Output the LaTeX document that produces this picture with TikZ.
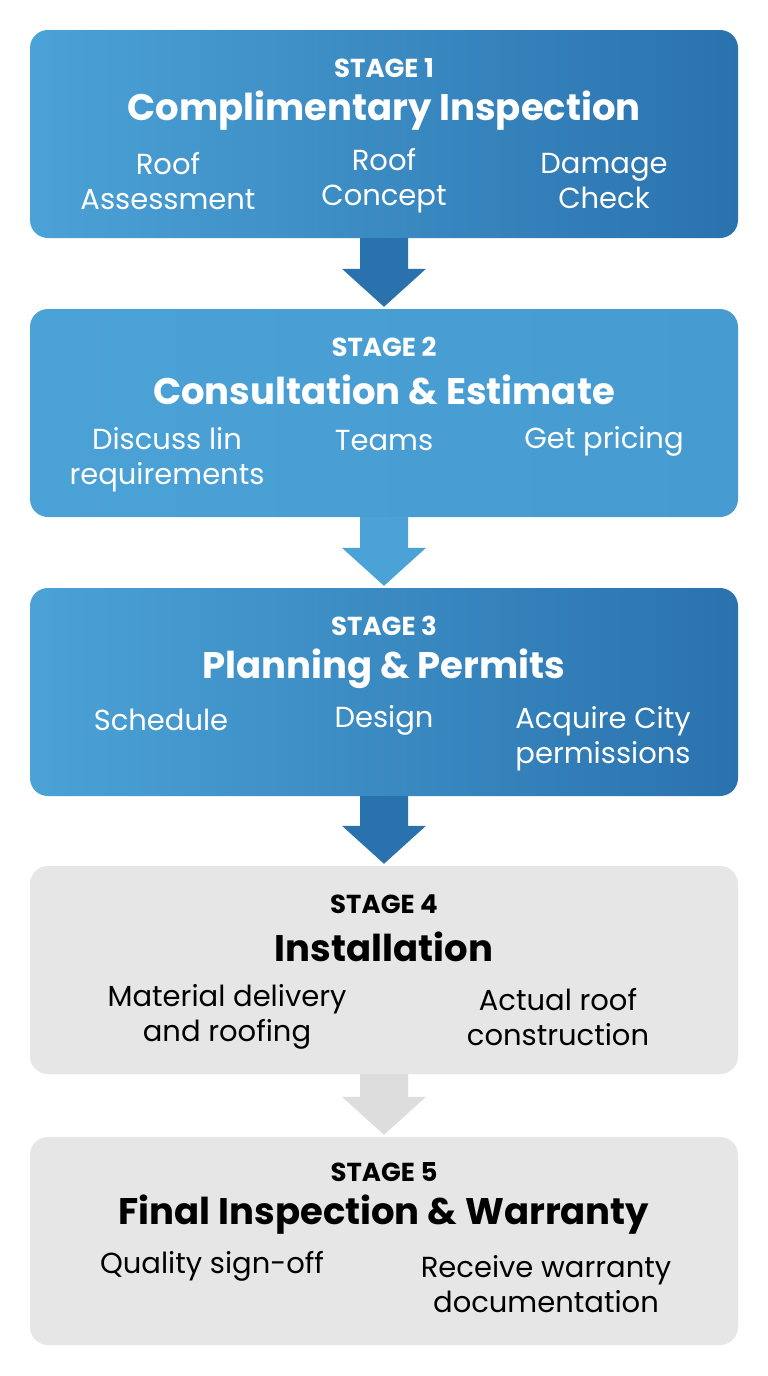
\documentclass[tikz,border=0pt]{standalone}
\usepackage{fontspec}
\setmainfont{Poppins}
\usetikzlibrary{calc}
\usetikzlibrary{positioning}

\definecolor{blueL}{HTML}{4BA2D6}
\definecolor{blueR}{HTML}{2A72AE}
\definecolor{blueM}{HTML}{3A8CC6}
\definecolor{greyBox}{HTML}{E6E6E6}
\definecolor{greyArr}{HTML}{DDDDDD}

\tikzset{
  stage/.style={rounded corners=18pt,minimum width=708pt,minimum height=208pt,inner sep=0pt},
  bluestage/.style={stage,left color=blueL,right color=blueR},
  greystage/.style={stage,fill=greyBox},
  stagetag/.style={font=\fontsize{26}{30}\selectfont\bfseries},
  stagetitle/.style={font=\fontsize{37}{42}\selectfont\bfseries},
  stagebody/.style={font=\fontsize{29}{35}\selectfont,align=center},
}

% block arrow between two stages
\newcommand{\stagearrow}[3]{%
  \fill[#3] ($(#1.south)+(-24pt,0)$) -- ($(#1.south)+(24pt,0)$)
    -- ($(#2.north)+(24pt,40pt)$) -- ($(#2.north)+(42pt,40pt)$)
    -- ($(#2.north)+(0,2pt)$)
    -- ($(#2.north)+(-42pt,40pt)$) -- ($(#2.north)+(-24pt,40pt)$) -- cycle;}

\begin{document}
\begin{tikzpicture}[x=1pt,y=-1pt]
  \useasboundingbox[fill=white] (0,0) rectangle (768,1376);

  \node[bluestage]  (s1) at (384,134) {};
  \node[bluestage,left color=blueL,right color=blueL!85!blueR] (s2) at (384,413) {};
  \node[bluestage]  (s3) at (384,692) {};
  \node[greystage]  (s4) at (384,970) {};
  \node[greystage]  (s5) at (384,1241) {};

  \stagearrow{s1}{s2}{blueR}
  \stagearrow{s2}{s3}{blueL}
  \stagearrow{s3}{s4}{blueR}
  \stagearrow{s4}{s5}{greyArr}

  % stage 1
  \begin{scope}[text=white]
    \node[stagetag]   (t1)  at ($(s1)+(0,-66)$) {STAGE 1};
    \node[stagetitle] (h1)  at ($(s1)+(0,-23)$) {Complimentary Inspection};
    \node[stagebody]  (b11) at ($(s1)+(-216,47)$) {Roof\\Assessment};
    \node[stagebody]  (b12) at ($(s1)+(0,47)$) {Roof\\Concept};
    \node[stagebody]  (b13) at ($(s1)+(220,47)$) {Damage\\Check};
  % stage 2
    \node[stagetag]   (t2)  at ($(s2)+(0,-66)$) {STAGE 2};
    \node[stagetitle] (h2)  at ($(s2)+(0,-23)$) {Consultation \& Estimate};
    \node[stagebody]  (b21) at ($(s2)+(-217,47)$) {Discuss lin\\requirements};
    \node[stagebody]  (b22) at ($(s2)+(0,28)$) {Teams};
    \node[stagebody]  (b23) at ($(s2)+(220,28)$) {Get pricing};
  % stage 3
    \node[stagetag]   (t3)  at ($(s3)+(0,-66)$) {STAGE 3};
    \node[stagetitle] (h3)  at ($(s3)+(0,-23)$) {Planning \& Permits};
    \node[stagebody]  (b31) at ($(s3)+(-223,28)$) {Schedule};
    \node[stagebody]  (b32) at ($(s3)+(0,28)$) {Design};
    \node[stagebody]  (b33) at ($(s3)+(219,47)$) {Acquire City\\permissions};
  \end{scope}

  % stage 4
  \node[stagetag]   (t4)  at ($(s4)+(0,-66)$) {STAGE 4};
  \node[stagetitle] (h4)  at ($(s4)+(0,-23)$) {Installation};
  \node[stagebody]  (b41) at ($(s4)+(-157,47)$) {Material delivery\\and roofing};
  \node[stagebody]  (b42) at ($(s4)+(174,47)$) {Actual roof\\construction};

  % stage 5
  \node[stagetag]   (t5)  at ($(s5)+(0,-69)$) {STAGE 5};
  \node[stagetitle] (h5)  at ($(s5)+(0,-26)$) {Final Inspection \& Warranty};
  \node[stagebody]  (b51) at ($(s5)+(-172,25)$) {Quality sign-off};
  \node[stagebody]  (b52) at ($(s5)+(162,43)$) {Receive warranty\\documentation};
\end{tikzpicture}
\end{document}
